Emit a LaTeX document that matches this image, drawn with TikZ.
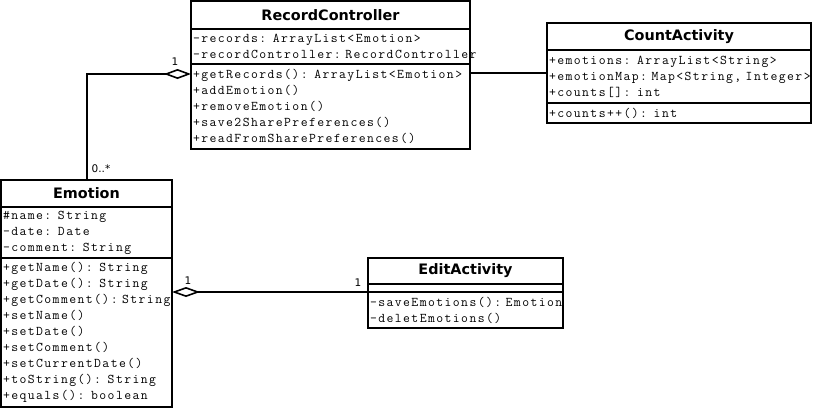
\documentclass[tikz,border=0pt]{standalone}
\usepackage{fontspec}
\setmainfont{DejaVu Sans}
\setmonofont{Latin Modern Mono}[LetterSpace=10.7, WordSpace=1.15]
\usetikzlibrary{positioning,arrows.meta}
\tikzset{
  classtitle/.style={draw, line width=1.6pt, outer sep=0pt, inner sep=0pt,
    font=\bfseries\fontsize{14.4}{16}\selectfont},
  classpart/.style={draw, line width=1.6pt, outer sep=0pt, inner xsep=2pt, inner ysep=0pt,
    align=left, font=\ttfamily\fontsize{13.33}{16}\selectfont},
  aggr/.style={line width=1.6pt, line join=miter},
  mult/.style={inner sep=0pt, font=\fontsize{10.5}{12}\selectfont}
}
\begin{document}
\begin{tikzpicture}[x=1pt, y=-1pt]
  \useasboundingbox (0,0) rectangle (813,408);

  % RecordController
  \node[classtitle, minimum width=279pt, minimum height=28pt, anchor=north west] (rc) at (191,1) {RecordController};
  \node[classpart, text width=275pt, minimum height=35pt, below=0pt of rc] (rcattr)
    {-records: ArrayList<Emotion>\\-recordController:~RecordController};
  \node[classpart, text width=275pt, minimum height=85pt, below=0pt of rcattr] (rcm)
    {+getRecords(): ArrayList<Emotion>\\+addEmotion()\\+removeEmotion()\\+save2SharePreferences()\\+readFromSharePreferences()};

  % CountActivity
  \node[classtitle, minimum width=264pt, minimum height=27pt, anchor=north west] (ca) at (547,23) {CountActivity};
  \node[classpart, text width=260pt, minimum height=53pt, below=0pt of ca] (caattr)
    {+emotions: ArrayList<String>\\+emotionMap:~Map<String,~Integer>\\+counts[]: int};
  \node[classpart, text width=260pt, minimum height=20pt, below=0pt of caattr] (cam) {+counts++(): int};

  % Emotion
  \node[classtitle, minimum width=171pt, minimum height=27pt, anchor=north west] (emo) at (1,180) {Emotion};
  \node[classpart, text width=167pt, minimum height=51pt, below=0pt of emo] (emoattr)
    {\#name: String\\-date: Date\\-comment: String};
  \node[classpart, text width=167pt, minimum height=149pt, below=0pt of emoattr] (emom)
    {+getName(): String\\+getDate(): String\\+getComment():~String\\+setName()\\+setDate()\\+setComment()\\+setCurrentDate()\\+toString(): String\\+equals(): boolean};

  % EditActivity
  \node[classtitle, minimum width=195pt, minimum height=26pt, anchor=north west] (ea) at (368,258) {EditActivity};
  \node[classpart, text width=191pt, minimum height=8pt, below=0pt of ea] (eaattr) {};
  \node[classpart, text width=191pt, minimum height=36pt, below=0pt of eaattr] (eam)
    {-saveEmotions():~Emotion\\-deletEmotions()};

  % Connectors
  \draw[aggr, -{Diamond[open, length=27pt, width=10pt]}] ([xshift=86pt]emo.north west) |- ([yshift=-10pt]rcm.north west);
  \draw[aggr] ([yshift=-9pt]rcm.north east) -- ([yshift=-9pt]rcm.north east -| caattr.west);
  \draw[aggr, {Diamond[open, length=28pt, width=10pt]}-] (eam.north west -| emom.east) -- (eam.north west);

  % Multiplicities
  \node[mult] (m1) at (175,62) {1};
  \node[mult] (m2) at (101,169) {0..*};
  \node[mult] (m3) at (188,281) {1};
  \node[mult] (m4) at (358,283) {1};
\end{tikzpicture}
\end{document}
